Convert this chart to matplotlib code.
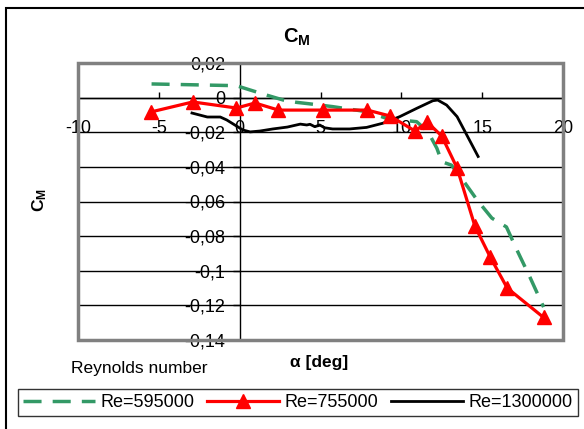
import matplotlib
matplotlib.use("Agg")
import matplotlib.pyplot as plt
from matplotlib.patches import Rectangle

plt.rcParams['font.family'] = ['Liberation Sans', 'DejaVu Sans']
plt.rcParams['mathtext.fontset'] = 'custom'
plt.rcParams['mathtext.rm'] = 'Liberation Sans'
plt.rcParams['mathtext.bf'] = 'Liberation Sans:bold'
plt.rcParams['lines.scale_dashes'] = False

# angle of attack [deg] and pitching moment coefficient for each Reynolds number
alpha_595 = [-5.45, -0.2, 0.65, 1.65, 2.7, 3.5, 4.25, 5.75, 7.85, 9.1, 9.9, 10.95,
             11.65, 12.2, 12.5, 13.1, 13.95, 14.7, 15.6, 16.5, 17.15, 17.95, 18.8]
cm_595 = [0.0079, 0.0069, 0.0044, 0.0015, -0.0014, -0.0027, -0.0035, -0.0052, -0.0081,
          -0.012, -0.0129, -0.0139, -0.0197, -0.0293, -0.037, -0.039, -0.0495, -0.0593,
          -0.0696, -0.0747, -0.088, -0.1036, -0.121]

alpha_755 = [-5.5, -2.9, -0.2, 0.95, 2.4, 5.15, 7.9, 9.3, 10.85, 11.6, 12.5, 13.45,
             14.55, 15.5, 16.55, 18.8]
cm_755 = [-0.0083, -0.0025, -0.006, -0.0031, -0.0072, -0.0072, -0.0072, -0.0106,
          -0.0193, -0.0141, -0.0222, -0.0407, -0.0742, -0.0921, -0.110, -0.127]

alpha_1300 = [-2.95, -2.0, -1.2, -0.8, -0.3, 0.2, 0.65, 1.25, 2.05, 2.95, 3.75, 4.15,
              4.35, 4.65, 4.95, 5.25, 5.75, 6.8, 7.85, 8.85, 9.9, 10.95, 11.95, 12.25,
              12.8, 13.45, 14.05, 14.75]
cm_1300 = [-0.0089, -0.0112, -0.0112, -0.0129, -0.0158, -0.0187, -0.0198, -0.0193,
           -0.0181, -0.017, -0.0153, -0.0158, -0.0154, -0.0168, -0.0158, -0.0174,
           -0.0181, -0.0181, -0.0172, -0.0148, -0.011, -0.0062, -0.0018, -0.0014,
           -0.0043, -0.011, -0.0216, -0.034]

x_ticks = [-10, -5, 0, 5, 10, 15, 20]
x_labels = ["-10", "-5", "0", "5", "10", "15", "20"]
y_ticks = [0.02, 0, -0.02, -0.04, -0.06, -0.08, -0.1, -0.12, -0.14]
y_labels = ["0,02", "0", "-0,02", "-0,04", "-0,06", "-0,08", "-0,1", "-0,12", "-0,14"]

W, H = 584, 429
fig = plt.figure(figsize=(W / 100, H / 100), dpi=100)
ax = fig.add_axes([78 / W, 1 - 340 / H, 485 / W, 277 / H])

for y in y_ticks[1:]:
    ax.axhline(y, color='black', lw=1, zorder=1)

ax.plot(alpha_595, cm_595, color='#339966', lw=2.5, dashes=(13, 8),
        label='Re=595000', zorder=3)
ax.plot(alpha_755, cm_755, color='red', lw=2.3, marker='^', markersize=9.5,
        label='Re=755000', zorder=4)
ax.plot(alpha_1300, cm_1300, color='black', lw=2, label='Re=1300000', zorder=3)

ax.set_xlim(-10, 20)
ax.set_ylim(-0.14, 0.02)

ax.spines['top'].set_visible(False)
ax.spines['right'].set_visible(False)
ax.spines['left'].set_position(('data', 0))
ax.spines['bottom'].set_position(('data', 0))
ax.spines['left'].set_linewidth(1)
ax.spines['bottom'].set_linewidth(1)
ax.spines['left'].set_zorder(2)
ax.spines['bottom'].set_zorder(2)

ax.set_xticks(x_ticks)
ax.set_xticklabels(x_labels, fontsize=13)
ax.set_yticks(y_ticks)
ax.set_yticklabels(y_labels, fontsize=13)
ax.tick_params(axis='x', direction='in', length=4, width=1, pad=16)
ax.tick_params(axis='y', direction='out', length=5, width=1, pad=5.5)

# grey plot-area border
ax.add_patch(Rectangle((0, 0), 1, 1, transform=ax.transAxes, fill=False,
                       edgecolor='#808080', lw=2.5, zorder=5, clip_on=False))

# outer chart frame
fig.add_artist(Rectangle((6 / W, -0.1), 1.2, 1 - 8 / H + 0.1,
                         transform=fig.transFigure, fill=False,
                         edgecolor='black', lw=1.5))

fig.text(297 / W, 1 - 37 / H, r'$\mathbf{C_M}$', fontsize=14.5, ha='center', va='center')
fig.text(40 / W, 1 - 200 / H, r'$\mathbf{C_M}$', fontsize=12.5, rotation=90,
         ha='center', va='center')
fig.text(319 / W, 1 - 362 / H, 'α [deg]', fontsize=12.5, fontweight='bold',
         ha='center', va='center')
fig.text(139 / W, 1 - 369 / H, 'Reynolds number', fontsize=12.5, ha='center', va='center')

leg = fig.legend(loc='center', bbox_to_anchor=(298 / W, 1 - 402.5 / H), ncol=3,
                 fontsize=13, frameon=True, fancybox=False, handlelength=4.0,
                 handletextpad=0.3, columnspacing=0.7, borderpad=0.3,
                 borderaxespad=0)
leg.get_frame().set_edgecolor('black')
leg.get_frame().set_linewidth(1)

fig.savefig('out.png', dpi=100)
